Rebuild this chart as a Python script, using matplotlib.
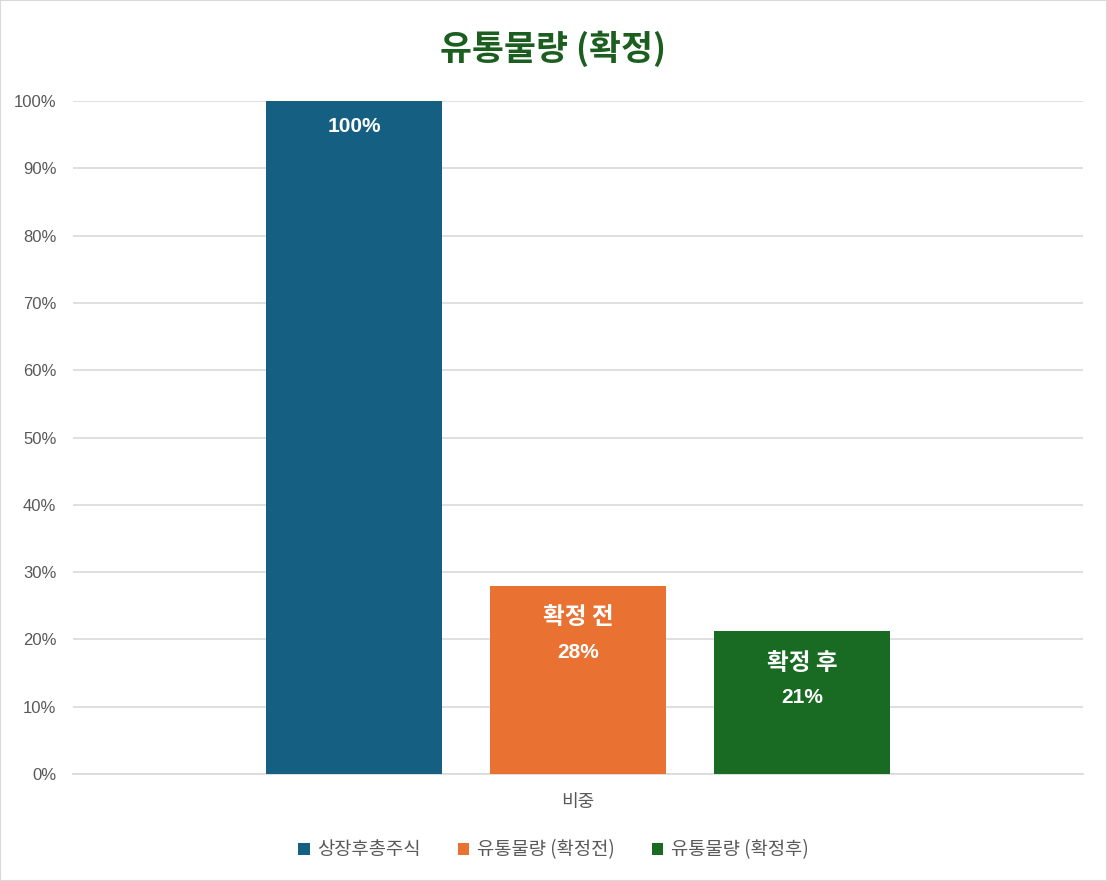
import matplotlib.pyplot as plt
from matplotlib.patches import Rectangle

series = ["상장후총주식", "유통물량 (확정전)", "유통물량 (확정후)"]
values = [1.00, 0.28, 0.212]
bar_labels = ["100%", "확정 전\n28%", "확정 후\n21%"]
colors = ["#156082", "#E97132", "#196B24"]
category = "비중"
yticks = [i / 10 for i in range(11)]
ytick_labels = [f"{i * 10}%" for i in range(11)]

plt.rcParams['font.family'] = ['Liberation Sans', 'Noto Sans CJK KR', 'DejaVu Sans']

fig = plt.figure(figsize=(11.07, 8.81), dpi=100)
fig.patches.append(Rectangle((0, 0), 1, 1, transform=fig.transFigure,
                             fill=False, edgecolor="#D9D9D9", linewidth=1.5))
ax = fig.add_axes([73 / 1107, 107 / 881, 1010 / 1107, 673 / 881])

width = 0.1743
step = 0.2218
for i, (name, v, c, lab) in enumerate(zip(series, values, colors, bar_labels)):
    x = (i - 1) * step
    ax.bar(x, v, width=width, color=c, label=name, zorder=3)
    lines = lab.split("\n")
    if len(lines) == 1:
        ax.annotate(lines[0], (x, v), xytext=(0, -18), textcoords="offset points",
                    ha="center", va="center", color="white", fontsize=15, fontweight="bold")
    else:
        ax.annotate(lines[0], (x, v), xytext=(0, -22.5), textcoords="offset points",
                    ha="center", va="center", color="white", fontsize=17, fontweight="bold",
                    family=['Noto Sans CJK KR'])
        ax.annotate(lines[1], (x, v), xytext=(0, -48), textcoords="offset points",
                    ha="center", va="center", color="white", fontsize=15, fontweight="bold")

ax.set_xlim(-0.5, 0.5)
ax.set_ylim(0, 1)
ax.set_yticks(yticks)
ax.set_yticklabels(ytick_labels, color="#595959", fontsize=12)
ax.set_xticks([0])
ax.set_xticklabels([category], color="#595959", fontsize=13, family=['Noto Sans CJK KR'])
ax.tick_params(axis="y", length=0, pad=12)
ax.tick_params(axis="x", length=0, pad=14)
ax.grid(axis="y", color="#D9D9D9", linewidth=1.2, zorder=0)
for s in ["top", "right", "left"]:
    ax.spines[s].set_visible(False)
ax.spines["bottom"].set_color("#D9D9D9")
ax.spines["bottom"].set_linewidth(1.2)

fig.text(0.5, 1 - 49 / 881, "유통물량 (확정)", ha="center", va="center",
         fontsize=25, fontweight="bold", color="#1B5E20", family=['Noto Sans CJK KR'])

leg = fig.legend(loc="center", bbox_to_anchor=(0.5, 31 / 881), ncol=3, frameon=False,
                 handlelength=0.6, handleheight=0.6, handletextpad=0.4, columnspacing=2.0,
                 prop={"family": ['Noto Sans CJK KR'], "size": 13.5})
for t in leg.get_texts():
    t.set_color("#595959")

fig.savefig("out.png", dpi=100)
